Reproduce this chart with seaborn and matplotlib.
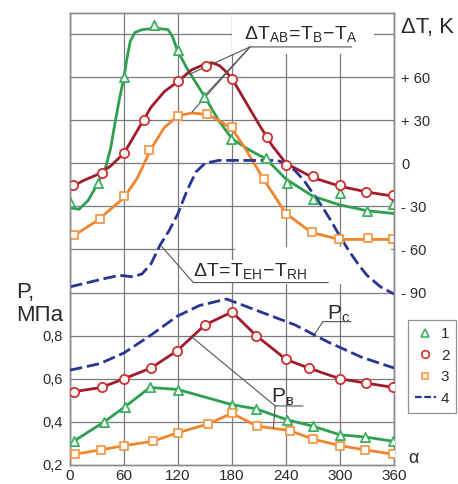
import numpy as np
import pandas as pd
import matplotlib
matplotlib.use("Agg")
import matplotlib.pyplot as plt
import seaborn as sns
from matplotlib.lines import Line2D
from matplotlib.patches import Rectangle

# angle axis
angles = [0, 60, 120, 180, 240, 300, 360]

# --- temperature differences dT, K (upper part) ---
# smooth curve traces
g_dt_x = [0, 10, 20, 30, 40, 45, 50, 55, 60, 63, 67, 72, 80, 95, 109, 114, 119, 130, 140, 150, 165, 180, 200, 218, 240, 270, 300, 330, 360]
g_dt_y = [-31, -32, -26, -15, -2, 10, 28, 45, 60, 72, 85, 91, 93, 94, 93, 88, 79, 66, 56, 46, 30, 17, 9, 3, -11, -23, -29, -33, -35]
r_dt_x = [0, 15, 30, 45, 60, 75, 90, 105, 120, 135, 150, 158, 166, 173, 180, 195, 210, 225, 240, 255, 270, 300, 330, 360]
r_dt_y = [-17, -12, -8, -2, 7, 23, 39, 50, 57, 65, 69, 70, 68, 64, 59, 43, 27, 12, 0, -5, -10, -16, -20, -23]
o_dt_x = [0, 30, 60, 75, 90, 105, 120, 135, 152, 165, 180, 195, 215, 240, 268, 299, 330, 360]
o_dt_y = [-52, -40, -24, -10, 10, 25, 33, 35, 34, 30, 24, 10, -11, -35, -48, -53, -53, -53]
b_dt_x = [0, 20, 40, 55, 70, 80, 90, 100, 110, 120, 130, 140, 150, 165, 200, 230, 240, 250, 260, 270, 280, 290, 300, 310, 320, 330, 345, 360]
b_dt_y = [-86, -83, -80, -78, -79, -77, -70, -57, -47, -35, -19, -6, 0, 2, 2, 2, 0, -5, -12, -21, -30, -40, -51, -61, -70, -78, -86, -91]
# measured points
g_mx = [0, 31, 60, 93, 120, 149, 179, 218, 241, 270, 300, 330, 359]
g_my = [-27, -14, 60, 96, 79, 46, 17, 4, -14, -25, -21, -33, -28]
r_mx = [3, 36, 60, 82, 120, 151, 180, 219, 240, 270, 300, 329, 359]
r_my = [-15, -7, 7, 30, 57, 68, 59, 18, -1, -9, -15, -20, -22]
o_mx = [4, 33, 60, 88, 120, 152, 180, 215, 240, 269, 299, 331, 359]
o_my = [-50, -39, -23, 9, 33, 34, 25, -11, -35, -48, -53, -52, -53]

# --- pressures P, MPa (lower part) ---
g_px = [4, 38, 61, 89, 120, 180, 207, 241, 270, 300, 328, 359]
g_py = [0.31, 0.40, 0.47, 0.56, 0.55, 0.48, 0.46, 0.41, 0.38, 0.34, 0.33, 0.31]
r_px = [4, 35, 60, 90, 119, 150, 180, 207, 240, 265, 300, 329, 359]
r_py = [0.54, 0.56, 0.60, 0.65, 0.73, 0.85, 0.91, 0.80, 0.69, 0.65, 0.60, 0.58, 0.56]
o_px = [5, 34, 60, 92, 120, 153, 180, 208, 244, 270, 300, 328, 359]
o_py = [0.25, 0.27, 0.29, 0.31, 0.35, 0.39, 0.44, 0.38, 0.36, 0.32, 0.29, 0.27, 0.25]
b_px = [0, 33, 60, 89, 119, 144, 174, 212, 250, 287, 324, 360]
b_py = [0.64, 0.67, 0.72, 0.80, 0.89, 0.94, 0.97, 0.91, 0.85, 0.77, 0.70, 0.65]

dt_ticks = [-90, -60, -30, 0, 30, 60]
dt_labels = ["- 90", "- 60", "- 30", "0", "+ 30", "+ 60"]
p_ticks = [0.2, 0.4, 0.6, 0.8]
p_labels = ["0,2", "0,4", "0,6", "0,8"]

GREEN, GREEN_M = "#2f9e50", "#3cb060"
RED, RED_M = "#9e1c2c", "#d0302f"
ORANGE, ORANGE_M = "#f0852d", "#f59a4a"
BLUE = "#283593"
GRID = "#7a7a7a"
TXT = "#2a2a2a"

sns.set_theme(style="white")
plt.rcParams["font.family"] = ["Liberation Sans", "DejaVu Sans"]
plt.rcParams["mathtext.default"] = "regular"

fig = plt.figure(figsize=(4.58, 4.84), dpi=100)
ax = fig.add_axes([70 / 458, 19 / 484, 324 / 458, 452 / 484])
ax2 = ax.twinx()

# dT axis: -210..104.6 K, P axis: 0.2..2.297 MPa (same grid)
ax.set_xlim(0, 360)
ax.set_ylim(-210, 104.6)
ax2.set_ylim(0.2, 2.297)

lw = 2.0
dash = (0, (4.5, 1.7))
sns.lineplot(x=g_dt_x, y=g_dt_y, color=GREEN, lw=lw, ax=ax, zorder=3)
sns.lineplot(x=r_dt_x, y=r_dt_y, color=RED, lw=lw, ax=ax, zorder=3)
sns.lineplot(x=o_dt_x, y=o_dt_y, color=ORANGE, lw=lw, ax=ax, zorder=3)
sns.lineplot(x=b_dt_x, y=b_dt_y, color=BLUE, lw=lw, linestyle=dash, ax=ax, zorder=3)

ms = 44
sns.scatterplot(x=g_mx, y=g_my, marker="^", s=ms, color="white", edgecolor=GREEN_M, linewidth=1.3, ax=ax, zorder=4)
sns.scatterplot(x=r_mx, y=r_my, marker="o", s=ms, color="white", edgecolor=RED_M, linewidth=1.3, ax=ax, zorder=4)
sns.scatterplot(x=o_mx, y=o_my, marker="s", s=ms - 6, color="white", edgecolor=ORANGE_M, linewidth=1.3, ax=ax, zorder=4)

sns.lineplot(x=g_px, y=g_py, color=GREEN, lw=lw, ax=ax2, zorder=3)
sns.lineplot(x=r_px, y=r_py, color=RED, lw=lw, ax=ax2, zorder=3)
sns.lineplot(x=o_px, y=o_py, color=ORANGE, lw=lw, ax=ax2, zorder=3)
sns.lineplot(x=b_px, y=b_py, color=BLUE, lw=lw, linestyle=dash, ax=ax2, zorder=3)
sns.scatterplot(x=g_px, y=g_py, marker="^", s=ms, color="white", edgecolor=GREEN_M, linewidth=1.3, ax=ax2, zorder=4)
sns.scatterplot(x=r_px, y=r_py, marker="o", s=ms, color="white", edgecolor=RED_M, linewidth=1.3, ax=ax2, zorder=4)
sns.scatterplot(x=o_px, y=o_py, marker="s", s=ms - 6, color="white", edgecolor=ORANGE_M, linewidth=1.3, ax=ax2, zorder=4)

# grid and ticks
grid_dt = list(range(-180, 91, 30))
ax.set_yticks(grid_dt, [dt_labels[dt_ticks.index(t)] if t in dt_ticks else "" for t in grid_dt])
ax.set_xticks(angles, [str(a) for a in angles])
ax.yaxis.tick_right()
ax.grid(True, color=GRID, lw=0.9)
ax.set_axisbelow(True)
ax2.set_yticks(p_ticks, p_labels)
ax2.yaxis.tick_left()
ax2.grid(False)
for a in (ax, ax2):
    a.tick_params(length=0, labelsize=11, labelcolor=TXT, pad=5)
    a.set_xlabel("")
    a.set_ylabel("")
    for s in a.spines.values():
        s.set_color("#8a8a8a")
        s.set_linewidth(1.0)
ax.tick_params(axis="x", pad=3)
ax.tick_params(axis="y", labelsize=10.5)
ax2.tick_params(axis="y", labelsize=10.5)

# axis titles
ax.text(1.022, 0.969, "ΔT, K", transform=ax.transAxes, fontsize=16, color=TXT, ha="left", va="center")
ax.text(-0.165, 0.405, "P,\nМПа", transform=ax.transAxes, fontsize=16, color=TXT, ha="left", va="top", linespacing=1.1)
ax.text(1.045, 0.015, "α", transform=ax.transAxes, fontsize=13, color=TXT, ha="left", va="center")

# white areas behind the labels
ax.add_patch(Rectangle((180, 76), 158, 30, facecolor="white", edgecolor="none", zorder=1))
ax.add_patch(Rectangle((183, -84), 174, 26, facecolor="white", edgecolor="none", zorder=1))

# annotations
lead = dict(arrowstyle="-", color="#555555", lw=0.8, shrinkA=0, shrinkB=0)
box = dict(facecolor="white", edgecolor="none", pad=1)
ax.text(257, 90, r"$\Delta T_{AB}\!=\!T_{B}\!-\!T_{A}$", fontsize=14, color=TXT, ha="center", va="center", zorder=2)
ax.annotate("", xy=(313, 81), xytext=(200, 81), arrowprops=lead)
for pt in [(133, 62), (148, 46), (136, 36)]:
    ax.annotate("", xy=pt, xytext=(200, 81), arrowprops=lead)

ax.text(200, -75, r"$\Delta T\!=\!T_{EH}\!-\!T_{RH}$", fontsize=14, color=TXT, ha="center", va="center", bbox=box, zorder=2)
ax.annotate("", xy=(287, -83), xytext=(137, -83), arrowprops=lead)
ax.annotate("", xy=(102, -58), xytext=(137, -83), arrowprops=lead)

ax2.text(298, 0.90, "$P_{c}$", fontsize=15, color=TXT, ha="center", va="center")
ax2.annotate("", xy=(312, 0.865), xytext=(281, 0.865), arrowprops=lead)
ax2.annotate("", xy=(270, 0.795), xytext=(281, 0.865), arrowprops=lead)
ax2.text(236, 0.515, "$P_{в}$", fontsize=15, color=TXT, ha="center", va="center")
ax2.annotate("", xy=(259, 0.474), xytext=(228, 0.474), arrowprops=lead)
ax2.annotate("", xy=(135, 0.795), xytext=(228, 0.474), arrowprops=lead)
ax2.annotate("", xy=(226, 0.372), xytext=(228, 0.474), arrowprops=lead)

handles = [
    Line2D([], [], ls="none", marker="^", ms=5.5, mfc="white", mec=GREEN_M, mew=1.2),
    Line2D([], [], ls="none", marker="o", ms=5.5, mfc="white", mec=RED_M, mew=1.2),
    Line2D([], [], ls="none", marker="s", ms=5.0, mfc="white", mec=ORANGE_M, mew=1.2),
    Line2D([], [], color=BLUE, lw=1.6, ls=(0, (3, 1.2))),
]
leg = fig.legend(handles, ["1", "2", "3", "4"], loc="upper left", bbox_to_anchor=(408 / 458, 1 - 320 / 484),
                 frameon=True, fancybox=False, fontsize=11, handlelength=1.35, handletextpad=0.35,
                 labelspacing=0.5, borderpad=0.45, borderaxespad=0)
leg.get_frame().set_edgecolor("#777777")
leg.get_frame().set_linewidth(0.9)
for t in leg.get_texts():
    t.set_color(TXT)

fig.savefig("out.png", dpi=100)
